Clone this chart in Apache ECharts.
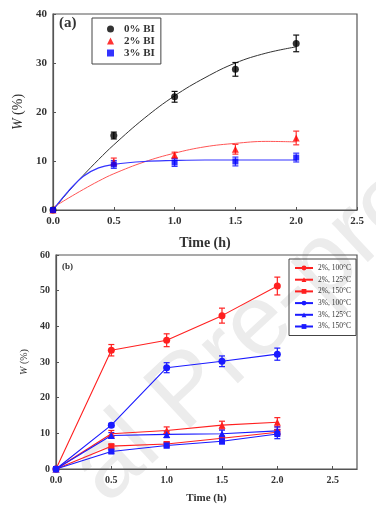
<!DOCTYPE html>
<html>
<head>
<meta charset="utf-8">
<script src="https://cdn.jsdelivr.net/npm/echarts@6/dist/echarts.min.js"></script>
<style>
html, body { margin: 0; padding: 0; background: #fff; }
#eChart { width: 376px; height: 510px; }
</style>
</head>
<body>
<div id="eChart"></div>
<script>
// panel (a): weight loss vs time, measured points
var timesA = [0, 0.5, 1.0, 1.5, 2.0];
var bi0 = [0, 15.2, 23.1, 28.7, 34.0];
var bi0Err = [0, 0.7, 1.1, 1.4, 1.7];
var bi2 = [0, 9.8, 11.2, 12.4, 14.7];
var bi2Err = [0, 0.8, 0.6, 1.0, 1.4];
var bi3 = [0, 9.3, 9.7, 9.9, 10.7];
var bi3Err = [0, 0.8, 0.8, 0.9, 0.9];

// panel (a): fitted curves
var fitT = [0, 0.125, 0.25, 0.375, 0.5, 0.75, 1.0, 1.25, 1.5, 1.75, 2.0];
var fit0 = [0, 3.7, 7.1, 10.3, 13.3, 18.7, 23.3, 27.0, 30.0, 32.0, 33.3];
var fit2 = [0.5, 2.4, 4.2, 5.9, 7.4, 9.8, 11.6, 12.9, 13.6, 14.0, 13.9];
var fit3 = [0, 3.8, 6.9, 8.6, 9.3, 9.9, 10.1, 10.2, 10.2, 10.2, 10.2];

// panel (b)
var timesB = [0, 0.5, 1.0, 1.5, 2.0];
var r100 = [0, 33.3, 36.1, 43.0, 51.3];
var r100Err = [0, 1.6, 1.8, 2.1, 2.5];
var r125 = [0, 9.9, 10.8, 12.3, 13.1];
var r125Err = [0, 0.9, 1.0, 1.1, 1.3];
var r150 = [0, 6.4, 7.0, 8.6, 10.3];
var r150Err = [0, 0.5, 0.6, 0.6, 0.7];
var b100 = [0, 12.3, 28.4, 30.2, 32.2];
var b100Err = [0, 0.5, 1.4, 1.5, 1.7];
var b125 = [0, 9.4, 9.7, 9.9, 10.7];
var b125Err = [0, 0.8, 0.9, 1.0, 1.1];
var b150 = [0, 4.9, 6.6, 7.8, 9.8];
var b150Err = [0, 0.5, 0.7, 0.8, 1.3];

var namesA = ['0% BI', '2% BI', '3% BI'];
var namesB = ['2%, 100°C', '2%, 125°C', '2%, 150°C', '3%, 100°C', '3%, 125°C', '3%, 150°C'];

var serif = '"Liberation Serif", "DejaVu Serif", serif';

function pairs(xs, ys) {
  return xs.map(function (x, i) { return [x, ys[i]]; });
}

function errSeries(idx, xs, ys, errs, color, cap) {
  var data = [];
  for (var i = 0; i < xs.length; i++) {
    if (errs[i] > 0) data.push([xs[i], ys[i] - errs[i], ys[i] + errs[i]]);
  }
  return {
    type: 'custom',
    xAxisIndex: idx,
    yAxisIndex: idx,
    silent: true,
    z: 3,
    encode: { x: 0, y: [1, 2] },
    data: data,
    renderItem: function (params, api) {
      var x = api.value(0);
      var lo = api.coord([x, api.value(1)]);
      var hi = api.coord([x, api.value(2)]);
      var st = { stroke: color, lineWidth: 1.2 };
      return {
        type: 'group',
        children: [
          { type: 'line', shape: { x1: lo[0], y1: lo[1], x2: hi[0], y2: hi[1] }, style: st },
          { type: 'line', shape: { x1: lo[0] - cap, y1: lo[1], x2: lo[0] + cap, y2: lo[1] }, style: st },
          { type: 'line', shape: { x1: hi[0] - cap, y1: hi[1], x2: hi[0] + cap, y2: hi[1] }, style: st }
        ]
      };
    }
  };
}

function xAxisDef(idx, max, nameGap, nameSize, labelSize) {
  return {
    gridIndex: idx,
    type: 'value',
    min: 0,
    max: max,
    interval: 0.5,
    name: 'Time (h)',
    nameLocation: 'middle',
    nameGap: nameGap,
    nameTextStyle: { fontFamily: serif, fontSize: nameSize, fontWeight: 'bold', color: '#333' },
    axisLine: { lineStyle: { color: '#555', width: 1.2 } },
    axisTick: { inside: true, length: 3, lineStyle: { color: '#555' } },
    axisLabel: {
      fontFamily: serif, fontSize: labelSize, fontWeight: 'bold', color: '#333', margin: 6,
      showMaxLabel: max === 2.5,
      formatter: function (v) { return v.toFixed(1); }
    },
    splitLine: { show: false }
  };
}

function yAxisDef(idx, max, nameGap, nameSize, labelSize) {
  return {
    gridIndex: idx,
    type: 'value',
    min: 0,
    max: max,
    interval: 10,
    name: '{i|W} (%)',
    nameLocation: 'middle',
    nameRotate: 90,
    nameGap: nameGap,
    nameTextStyle: {
      fontFamily: serif, fontSize: nameSize, color: '#333',
      rich: { i: { fontFamily: serif, fontSize: nameSize, fontStyle: 'italic', color: '#333' } }
    },
    axisLine: { lineStyle: { color: '#555', width: 1.2 } },
    axisTick: { inside: true, length: 3, lineStyle: { color: '#555' } },
    axisLabel: { fontFamily: serif, fontSize: labelSize, fontWeight: 'bold', color: '#333', margin: 6 },
    splitLine: { show: false }
  };
}

var chart = echarts.init(document.getElementById('eChart'));

var series = [
  // fitted curves (a)
  { type: 'line', xAxisIndex: 0, yAxisIndex: 0, data: pairs(fitT, fit0), smooth: 0.4, symbol: 'none', lineStyle: { color: '#333', width: 1 }, z: 2, silent: true },
  { type: 'line', xAxisIndex: 0, yAxisIndex: 0, data: pairs(fitT, fit2), smooth: 0.4, symbol: 'none', lineStyle: { color: '#ff5555', width: 1 }, z: 2, silent: true },
  { type: 'line', xAxisIndex: 0, yAxisIndex: 0, data: pairs(fitT, fit3), smooth: 0.4, symbol: 'none', lineStyle: { color: '#3333ff', width: 1.2 }, z: 2, silent: true },
  errSeries(0, timesA, bi0, bi0Err, '#111', 3),
  errSeries(0, timesA, bi2, bi2Err, '#ff3333', 3),
  errSeries(0, timesA, bi3, bi3Err, '#3333ff', 3),
  { name: namesA[0], type: 'scatter', xAxisIndex: 0, yAxisIndex: 0, data: pairs(timesA, bi0), symbol: 'circle', symbolSize: 7, itemStyle: { color: '#000' }, z: 4 },
  { name: namesA[1], type: 'scatter', xAxisIndex: 0, yAxisIndex: 0, data: pairs(timesA, bi2), symbol: 'triangle', symbolSize: 7, itemStyle: { color: '#ff0000' }, z: 4 },
  { name: namesA[2], type: 'scatter', xAxisIndex: 0, yAxisIndex: 0, data: pairs(timesA, bi3), symbol: 'rect', symbolSize: 6, itemStyle: { color: '#0000ff' }, z: 4 }
];

var bSets = [
  [r100, r100Err, '#ff2020', 'circle', 7],
  [r125, r125Err, '#ff2020', 'triangle', 7],
  [r150, r150Err, '#ff2020', 'rect', 6],
  [b100, b100Err, '#1a1aff', 'circle', 7],
  [b125, b125Err, '#1a1aff', 'triangle', 7],
  [b150, b150Err, '#1a1aff', 'rect', 6]
];
bSets.forEach(function (s, i) {
  series.push(errSeries(1, timesB, s[0], s[1], s[2], 3));
  series.push({
    name: namesB[i], type: 'line', xAxisIndex: 1, yAxisIndex: 1,
    data: pairs(timesB, s[0]), symbol: s[3], symbolSize: s[4], showSymbol: true,
    lineStyle: { color: s[2], width: 1.1 }, itemStyle: { color: s[2] }, z: 4
  });
});

var option = {
  backgroundColor: '#fff',
  animation: false,
  grid: [
    { left: 53, top: 14, width: 304, height: 196, show: true, borderColor: '#555', borderWidth: 1.2 },
    { left: 56, top: 255, width: 301, height: 214, show: true, borderColor: '#555', borderWidth: 1.2 }
  ],
  xAxis: [xAxisDef(0, 2.5, 26, 14, 11), xAxisDef(1, 2.72, 24, 11, 10)],
  yAxis: [yAxisDef(0, 40, 21, 14, 11), yAxisDef(1, 60, 23, 10, 10)],
  legend: [
    {
      data: [
        { name: namesA[0], icon: 'circle' },
        { name: namesA[1], icon: 'triangle' },
        { name: namesA[2], icon: 'rect' }
      ],
      left: 92, top: 18, orient: 'vertical',
      itemWidth: 7, itemHeight: 7, itemGap: 0,
      padding: [5, 6, 5, 15],
      borderColor: '#444', borderWidth: 1,
      textStyle: { fontFamily: serif, fontSize: 11, fontWeight: 'bold', color: '#333', lineHeight: 12, padding: [0, 0, 0, 5] }
    },
    {
      data: namesB, left: 289, top: 259, orient: 'vertical',
      itemWidth: 18, itemHeight: 6, itemGap: 3.7,
      padding: [5, 5, 5, 5],
      borderColor: '#444', borderWidth: 1,
      textStyle: { fontFamily: serif, fontSize: 7.5, color: '#333' }
    }
  ],
  graphic: [
    {
      type: 'text', x: 122, y: 522, rotation: 43 * Math.PI / 180, z: -10, silent: true,
      style: { text: 'al Pre-proof', fontFamily: '"Liberation Sans", Arial, sans-serif', fontSize: 100, fill: '#ececec', textVerticalAlign: 'bottom' }
    },
    { type: 'text', left: 59, top: 16, style: { text: '(a)', fontFamily: serif, fontSize: 15, fontWeight: 'bold', fill: '#333' } },
    { type: 'text', left: 62, top: 262, style: { text: '(b)', fontFamily: serif, fontSize: 9, fontWeight: 'bold', fill: '#333' } }
  ],
  series: series
};

chart.setOption(option);
</script>
</body>
</html>
